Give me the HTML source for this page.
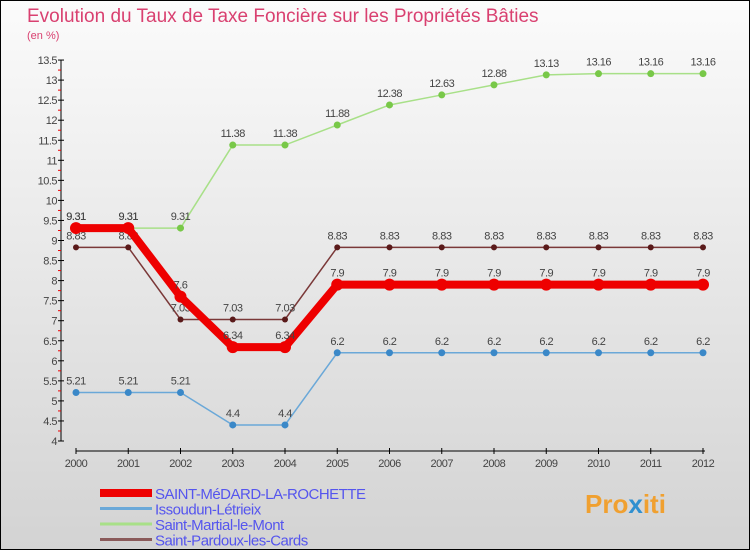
<!DOCTYPE html>
<html><head><meta charset="utf-8"><style>
body{margin:0}
#c{width:750px;height:550px;position:relative;overflow:hidden;box-sizing:border-box;border:1px solid #000;background:linear-gradient(#fbfbfb,#d3d3d3);font-family:"Liberation Sans",sans-serif}
</style></head><body>
<div id="c">
<svg id="s" width="750" height="550" style="position:absolute;left:-1px;top:-1px">
<text x="27" y="22" font-size="19" fill="#d94070">Evolution du Taux de Taxe Foncière sur les Propriétés Bâties</text>
<text x="27" y="39" font-size="11" fill="#d94070">(en %)</text>
<text x="585" y="513" font-size="26" font-weight="bold" fill="#f0a030">Pro<tspan fill="#3090d0">x</tspan>iti</text>
</svg>
</div>
<script>
const years=[2000,2001,2002,2003,2004,2005,2006,2007,2008,2009,2010,2011,2012];
const yTicks=[4,4.5,5,5.5,6,6.5,7,7.5,8,8.5,9,9.5,10,10.5,11,11.5,12,12.5,13,13.5];
const medard=[9.31,9.31,7.6,6.34,6.34,7.9,7.9,7.9,7.9,7.9,7.9,7.9,7.9];
const issoudun=[5.21,5.21,5.21,4.4,4.4,6.2,6.2,6.2,6.2,6.2,6.2,6.2,6.2];
const martial=[9.31,9.31,9.31,11.38,11.38,11.88,12.38,12.63,12.88,13.13,13.16,13.16,13.16];
const pardoux=[8.83,8.83,7.03,7.03,7.03,8.83,8.83,8.83,8.83,8.83,8.83,8.83,8.83];
const names=["SAINT-MéDARD-LA-ROCHETTE","Issoudun-Létrieix","Saint-Martial-le-Mont","Saint-Pardoux-les-Cards"];
const NS="http://www.w3.org/2000/svg";
const svg=document.getElementById('s');
const X=i=>76+i*52.25;
const Y=v=>441-(v-4)*40.1;
function el(t,a,p){const e=document.createElementNS(NS,t);for(const k in a)e.setAttribute(k,a[k]);(p||svg).appendChild(e);return e;}
// axes
let ya=el('line',{x1:61,y1:60,x2:61,y2:441,stroke:'#000','stroke-width':1});


let xa=el('line',{x1:76,y1:451,x2:705,y2:451,stroke:'#000','stroke-width':1});


yTicks.forEach(v=>{
 const y=Y(v);
 el('line',{x1:58,y1:y,x2:64,y2:y,stroke:'#000'});
 if(v<13.5)el('line',{x1:58,y1:Y(v+0.25),x2:61,y2:Y(v+0.25),stroke:'#e00'});
 const t=el('text',{x:57,y:y+4,'font-size':11,fill:'#444','text-anchor':'end','letter-spacing':'-0.5'});
 t.textContent=String(v);
 
 
});
years.forEach((yr,i)=>{
 const x=X(i);
 el('line',{x1:x,y1:448,x2:x,y2:454,stroke:'#000'});
 const t=el('text',{x:x,y:467,'font-size':11,fill:'#444','text-anchor':'middle','letter-spacing':'-0.5'});
 t.textContent=yr;
 
 
});
const series=[
 {d:pardoux,c:'#7a3838',m:'#5a1a1a',w:1.5,r:3,n:'saint-pardoux'},
 {d:issoudun,c:'#6aa8d8',m:'#3a88c8',w:1.5,r:3.5,n:'issoudun'},
 {d:martial,c:'#a8e088',m:'#78c848',w:1.5,r:3.5,n:'saint-martial'},
 {d:medard,c:'#ee0000',m:'#ee0000',w:8,r:6,n:'saint-medard'}
];
series.forEach(s=>{
 const g=el('g',{});
 
 
 const l=el('polyline',{points:s.d.map((v,i)=>X(i)+','+Y(v)).join(' '),fill:'none',stroke:s.c,'stroke-width':s.w},g);
 
 
 s.d.forEach((v,i)=>{
  const p=el('circle',{cx:X(i),cy:Y(v),r:s.r,fill:s.m},g);
  
  
  const t=el('text',{x:X(i),y:Y(v)-8,'font-size':11,fill:'#444','text-anchor':'middle','letter-spacing':'-0.5'},g);
  t.textContent=String(v);
  
  
 });
});
// legend
const lc=['#ee0000','#6aa8d8','#a8e088','#8a5a5a'];const lw=[8,3,3,3];
names.forEach((n,i)=>{
 const y=493+i*15.5;
 const g=el('g',{});
 
 
 el('line',{x1:100,y1:y,x2:152,y2:y,stroke:lc[i],'stroke-width':lw[i]},g);
 const t=el('text',{x:155,y:y+6,'font-size':15,fill:'#5555ee','letter-spacing':'-0.5'},g);
 t.textContent=n;
});
</script>
</body></html>
